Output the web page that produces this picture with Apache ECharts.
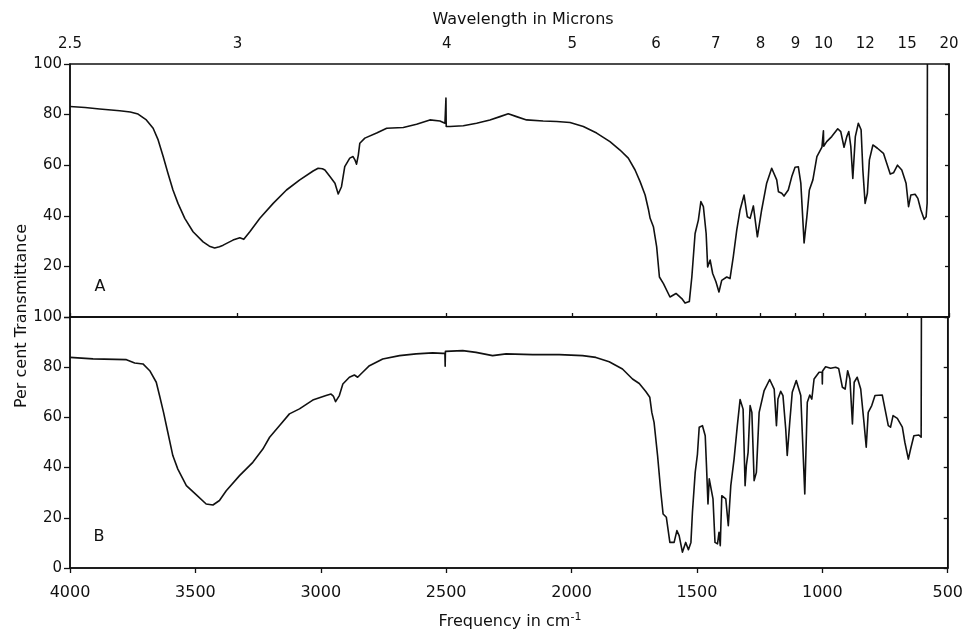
<!DOCTYPE html>
<html>
<head>
<meta charset="utf-8">
<script src="https://cdn.jsdelivr.net/npm/echarts@6/dist/echarts.min.js"></script>
<style>
html,body{margin:0;padding:0;background:#fff;}
#chart{width:966px;height:635px;}
</style>
</head>
<body>
<div id="chart"></div>
<script>
// Wavelength ticks (microns) for the top axis
const wavelengthTicks = [2.5, 3, 4, 5, 6, 7, 8, 9, 10, 12, 15, 20];
// Frequency axis (cm-1) for the bottom axis
const freqMin = 500, freqMax = 4000, freqStep = 500;

// Spectrum A: [frequency cm-1, % transmittance]
const spectrumA = [
[4000,83.2],[3940,82.8],[3882,82.2],[3802,81.5],[3760,81.0],[3729,80.2],[3696,77.9],[3669,74.6],[3649,70.0],[3629,63.4],
[3610,56.8],[3590,50.2],[3570,44.9],[3543,39.0],[3510,33.7],[3470,29.7],[3445,28.0],[3424,27.3],[3405,27.8],[3390,28.4],
[3351,30.4],[3324,31.3],[3308,30.7],[3284,33.7],[3244,39.0],[3191,44.9],[3138,50.2],[3085,54.2],[3032,57.7],[3012,58.8],
[2995,58.6],[2985,58.1],[2965,55.5],[2945,52.9],[2932,48.6],[2919,51.5],[2906,59.4],[2886,62.8],[2873,63.4],[2865,62.0],
[2859,60.4],[2852,64.0],[2846,68.7],[2826,70.7],[2779,72.7],[2739,74.6],[2673,74.9],[2620,76.2],[2567,77.9],[2527,77.5],
[2507,76.6],[2504,77.0],[2503,86.5],[2502,75.3],[2487,75.3],[2434,75.6],[2381,76.6],[2328,77.9],[2288,79.2],[2255,80.3],
[2222,79.2],[2182,77.9],[2116,77.5],[2062,77.3],[2009,76.9],[1956,75.3],[1903,72.7],[1850,69.3],[1810,66.0],[1777,62.8],
[1750,58.1],[1730,53.5],[1710,48.2],[1697,42.6],[1690,39.0],[1677,35.7],[1664,27.7],[1653,15.8],[1637,13.2],[1611,7.9],
[1587,9.3],[1564,7.3],[1551,5.5],[1534,6.1],[1524,15.8],[1511,33.0],[1498,38.3],[1488,45.6],[1478,43.6],[1467,33.0],
[1461,19.8],[1451,22.5],[1441,17.2],[1428,13.9],[1416,9.9],[1405,14.5],[1385,15.8],[1372,15.2],[1359,23.8],[1345,34.4],
[1332,42.3],[1316,48.2],[1303,39.6],[1292,39.0],[1279,43.9],[1263,31.7],[1246,42.3],[1226,52.9],[1206,58.8],[1186,54.2],
[1179,49.5],[1166,48.9],[1157,47.8],[1140,50.2],[1126,55.5],[1113,59.2],[1100,59.4],[1090,52.9],[1077,29.3],[1066,39.6],
[1056,50.2],[1042,54.2],[1026,63.4],[1006,67.1],[1001,67.5],[1000,73.6],[999,67.5],[987,69.3],[967,71.3],[943,74.4],
[931,73.3],[918,67.1],[907,71.3],[899,73.3],[891,67.4],[883,54.8],[873,71.3],[861,76.6],[850,74.0],[843,58.1],
[834,44.9],[825,48.9],[817,62.1],[803,68.0],[785,66.7],[761,64.7],[748,60.8],[734,56.5],[721,57.0],[705,60.0],
[688,58.1],[671,52.9],[661,43.6],[652,48.2],[635,48.5],[624,46.9],[612,42.3],[599,38.6],[591,39.6],[587,45.0],[586,100]
];

// Spectrum B: [frequency cm-1, % transmittance]
const spectrumB = [
[4000,83.9],[3908,83.3],[3775,83.0],[3742,81.7],[3709,81.3],[3682,78.6],[3656,74.0],[3643,68.7],[3627,62.0],[3610,54.1],
[3590,44.8],[3570,39.4],[3536,32.8],[3496,29.1],[3457,25.5],[3430,25.1],[3404,26.9],[3377,30.8],[3324,36.8],[3271,42.1],
[3231,47.4],[3204,52.1],[3165,56.7],[3125,61.4],[3085,63.4],[3032,66.9],[2979,68.7],[2959,69.3],[2950,68.5],[2941,66.3],
[2926,68.7],[2912,73.3],[2886,76.0],[2866,76.9],[2853,76.0],[2833,78.0],[2806,80.6],[2753,83.3],[2686,84.6],[2620,85.3],
[2554,85.7],[2514,85.5],[2505,85.5],[2504,80.4],[2503,86.3],[2498,86.6],[2434,86.6],[2381,85.9],[2315,84.6],[2261,85.3],
[2155,85.0],[2049,85.0],[1956,84.6],[1903,83.9],[1850,82.2],[1797,79.3],[1757,75.3],[1730,73.5],[1704,70.3],[1688,68.0],
[1680,62.0],[1671,58.0],[1657,44.8],[1644,30.2],[1635,21.5],[1622,20.2],[1608,10.2],[1591,10.2],[1580,14.9],[1571,12.9],
[1558,6.3],[1545,10.2],[1534,7.3],[1524,10.2],[1518,22.2],[1507,38.1],[1498,45.4],[1491,56.1],[1478,56.7],[1467,52.7],
[1462,40.8],[1456,25.5],[1451,35.5],[1445,36.1],[1436,27.5],[1428,10.2],[1418,9.6],[1412,14.2],[1407,8.9],[1401,28.8],
[1385,27.5],[1375,16.9],[1365,32.8],[1352,43.4],[1339,56.7],[1328,67.1],[1316,63.3],[1308,32.8],[1303,40.8],[1296,46.1],
[1288,64.7],[1281,62.0],[1272,34.8],[1263,38.1],[1252,62.0],[1232,70.7],[1210,75.1],[1192,71.3],[1183,56.7],[1177,67.3],
[1166,70.4],[1157,68.7],[1146,55.4],[1140,44.8],[1130,58.0],[1120,70.0],[1104,74.7],[1086,68.7],[1070,29.5],[1060,66.0],
[1050,68.9],[1042,67.3],[1033,75.3],[1013,78.0],[1001,78.0],[1000,73.3],[999,78.5],[987,80.2],[967,79.6],[947,80.0],
[935,79.5],[920,72.0],[909,71.3],[899,78.6],[890,75.3],[880,57.4],[873,74.0],[861,76.0],[847,71.3],[834,58.0],
[825,48.1],[817,62.0],[803,64.7],[790,68.7],[761,68.9],[750,63.3],[737,56.7],[728,56.1],[718,60.7],[701,59.6],
[681,56.1],[671,50.1],[657,43.4],[648,47.4],[635,52.7],[615,53.0],[606,52.1],[605,100]
];

const INK = '#111111';
const FONT = 'DejaVu Sans';
const chart = echarts.init(document.getElementById('chart'), null, {renderer: 'canvas'});

const topFreqTicks = wavelengthTicks.map(w => 10000 / w);

const option = {
  backgroundColor: '#ffffff',
  animation: false,
  textStyle: {fontFamily: FONT, color: INK},
  grid: [
    {left: 70, right: 17, top: 64, height: 253, show: true, borderColor: INK, borderWidth: 1.5, backgroundColor: 'transparent'},
    {left: 70, right: 17, top: 317, height: 251, show: true, borderColor: INK, borderWidth: 1.5, backgroundColor: 'transparent'}
  ],
  xAxis: [
    {
      gridIndex: 0, type: 'value', min: freqMin, max: freqMax, inverse: true, position: 'top',
      axisLine: {show: true, lineStyle: {color: INK, width: 1.5}},
      axisTick: {show: true, customValues: topFreqTicks, length: 4, lineStyle: {color: INK, width: 1.3}},
      axisLabel: {show: true, customValues: topFreqTicks, margin: 12, fontSize: 15, color: INK, fontFamily: FONT,
        formatter: v => String(Math.round(10000 / v * 10) / 10)},
      splitLine: {show: false}
    },
    {
      gridIndex: 1, type: 'value', min: freqMin, max: freqMax, interval: freqStep, inverse: true, position: 'bottom',
      axisLine: {show: true, lineStyle: {color: INK, width: 1.5}},
      axisTick: {show: true, length: 5, lineStyle: {color: INK, width: 1.3}},
      axisLabel: {show: true, margin: 17, fontSize: 16, color: INK, fontFamily: FONT, formatter: v => String(v)},
      splitLine: {show: false}
    }
  ],
  yAxis: [
    {
      gridIndex: 0, type: 'value', min: 0, max: 100, interval: 20, position: 'left',
      axisLine: {show: true, lineStyle: {color: INK, width: 1.5}},
      axisTick: {show: true, length: 6, lineStyle: {color: INK, width: 1.3}},
      axisLabel: {margin: 8, fontSize: 15, color: INK, fontFamily: FONT, formatter: v => v === 0 ? '' : String(v)},
      splitLine: {show: false}
    },
    {
      gridIndex: 0, type: 'value', min: 0, max: 100, interval: 20, position: 'right',
      axisLine: {show: true, lineStyle: {color: INK, width: 1.5}},
      axisTick: {show: true, inside: true, length: 4, lineStyle: {color: INK, width: 1.3}},
      axisLabel: {show: false}, splitLine: {show: false}
    },
    {
      gridIndex: 1, type: 'value', min: 0, max: 100, interval: 20, position: 'left',
      axisLine: {show: true, lineStyle: {color: INK, width: 1.5}},
      axisTick: {show: true, length: 6, lineStyle: {color: INK, width: 1.3}},
      axisLabel: {margin: 8, fontSize: 15, color: INK, fontFamily: FONT, formatter: v => String(v)},
      splitLine: {show: false}
    },
    {
      gridIndex: 1, type: 'value', min: 0, max: 100, interval: 20, position: 'right',
      axisLine: {show: true, lineStyle: {color: INK, width: 1.5}},
      axisTick: {show: true, inside: true, length: 4, lineStyle: {color: INK, width: 1.3}},
      axisLabel: {show: false}, splitLine: {show: false}
    }
  ],
  series: [
    {name: 'A', type: 'line', xAxisIndex: 0, yAxisIndex: 0, data: spectrumA, showSymbol: false, symbol: 'none',
      lineStyle: {color: INK, width: 1.6, join: 'round'}, silent: true},
    {name: 'B', type: 'line', xAxisIndex: 1, yAxisIndex: 2, data: spectrumB, showSymbol: false, symbol: 'none',
      lineStyle: {color: INK, width: 1.6, join: 'round'}, silent: true}
  ],
  graphic: [
    {type: 'text', x: 523, y: 20, style: {text: 'Wavelength in Microns', font: '16px "DejaVu Sans"', fill: INK, textAlign: 'center', textVerticalAlign: 'middle'}},
    {type: 'text', x: 510, y: 622, style: {text: 'Frequency in cm{s|-1}', font: '16px "DejaVu Sans"', fill: INK, textAlign: 'center', textVerticalAlign: 'middle',
      rich: {s: {fontSize: 11, fontFamily: FONT, fill: INK, verticalAlign: 'top', padding: [0, 0, 10, 0]}}}},
    {type: 'text', x: 22, y: 316, rotation: Math.PI / 2, style: {text: 'Per cent Transmittance', font: '16px "DejaVu Sans"', fill: INK, textAlign: 'center', textVerticalAlign: 'middle'}},
    {type: 'text', x: 100, y: 287, style: {text: 'A', font: '16px "DejaVu Sans"', fill: INK, textAlign: 'center', textVerticalAlign: 'middle'}},
    {type: 'text', x: 99, y: 537, style: {text: 'B', font: '16px "DejaVu Sans"', fill: INK, textAlign: 'center', textVerticalAlign: 'middle'}}
  ]
};
chart.setOption(option);
</script>
</body>
</html>
